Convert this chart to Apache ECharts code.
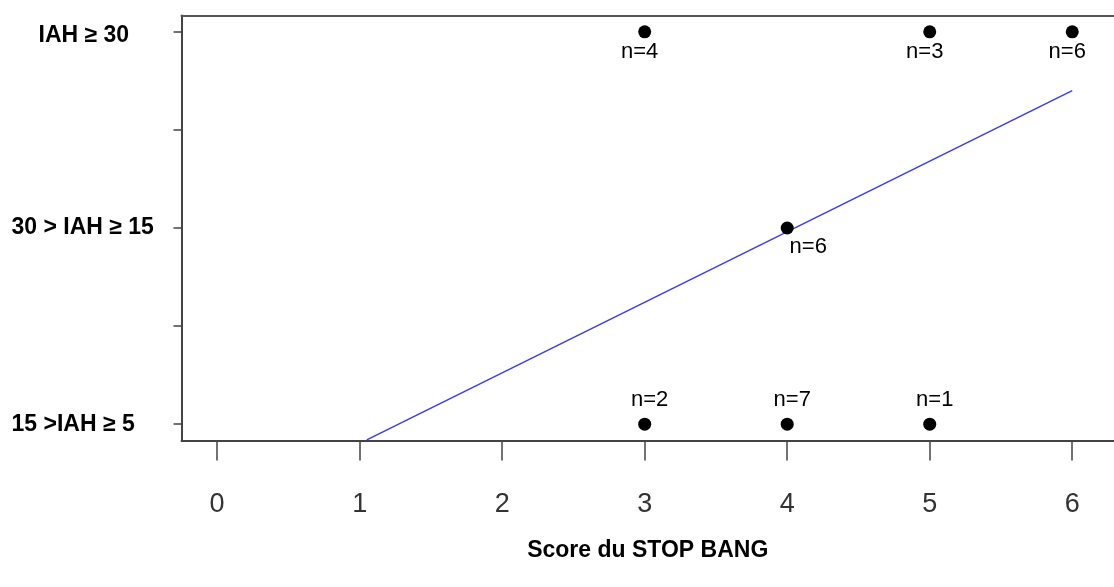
<!DOCTYPE html>
<html>
<head>
<meta charset="utf-8">
<script src="https://cdn.jsdelivr.net/npm/echarts@6/dist/echarts.min.js"></script>
<style>
  html, body { margin: 0; padding: 0; background: #fff; }
  #chart { width: 1114px; height: 587px; }
</style>
</head>
<body>
<div id="chart"></div>
<script>
// observations: STOP BANG score vs IAH class, with group sizes
const scoreX = [3, 5, 6, 4, 3, 4, 5];
const severityY = [3, 3, 3, 2, 1, 1, 1];
const counts = [4, 3, 6, 6, 2, 7, 1];

// fitted regression line
const fitX = [1.05, 6];
const fitY = [0.92, 2.7];

const xTicks = [0, 1, 2, 3, 4, 5, 6];
const yTicks = [1, 1.5, 2, 2.5, 3];
const yLabelValues = [1, 2, 3];
const yLabels = ['15 >IAH ≥ 5', '30 > IAH ≥ 15', 'IAH ≥ 30'];

const FONT = '"Liberation Sans", Arial, Helvetica, sans-serif';
const axisColor = '#444';

const chart = echarts.init(document.getElementById('chart'));

// label placement depends on the row
function labelOffset(y) {
  if (y === 3) return [-5, 20];
  if (y === 1) return [5, -24];
  return [21, 19];
}

const points = scoreX.map((x, i) => ({
  value: [x, severityY[i]],
  label: {
    show: true,
    position: 'inside',
    offset: labelOffset(severityY[i]),
    color: '#000',
    formatter: 'n=' + counts[i]
  }
}));

const option = {
  animation: false,
  grid: { left: 181.5, right: 0, top: 15.5, bottom: 146.5 },
  xAxis: [
    {
      type: 'value',
      min: -0.25,
      max: 6.293,
      position: 'bottom',
      splitLine: { show: false },
      axisLine: { show: true, onZero: false, lineStyle: { color: axisColor, width: 2 } },
      axisTick: { show: true, length: 20, customValues: xTicks, lineStyle: { color: axisColor, width: 1.5 } },
      axisLabel: {
        customValues: xTicks,
        margin: 51,
        fontSize: 27,
        color: '#333',
        fontFamily: FONT
      },
      name: 'Score du STOP BANG',
      nameLocation: 'middle',
      nameGap: 99,
      nameTextStyle: { fontSize: 23, fontWeight: 'bold', color: '#000', fontFamily: FONT }
    },
    {
      // top border of the box
      type: 'value',
      min: -0.25,
      max: 6.293,
      position: 'top',
      splitLine: { show: false },
      axisLine: { show: true, onZero: false, lineStyle: { color: '#555', width: 2 } },
      axisTick: { show: false },
      axisLabel: { show: false }
    }
  ],
  yAxis: {
    type: 'value',
    min: 0.917,
    max: 3.083,
    splitLine: { show: false },
    axisLine: { show: true, onZero: false, lineStyle: { color: axisColor, width: 2 } },
    axisTick: { show: true, length: 8, customValues: yTicks, lineStyle: { color: axisColor, width: 1.5 } },
    axisLabel: {
      customValues: yLabelValues,
      align: 'left',
      margin: 170,
      formatter: (v) => {
        const txt = yLabels[Math.round(v) - 1];
        return Math.round(v) === 3 ? '{top|' + txt + '}' : '{b|' + txt + '}';
      },
      rich: {
        top: { fontSize: 23, fontWeight: 'bold', color: '#000', fontFamily: FONT, padding: [8, 0, 0, 27] },
        b: { fontSize: 23, fontWeight: 'bold', color: '#000', fontFamily: FONT }
      }
    }
  },
  series: [
    {
      type: 'line',
      data: fitX.map((x, i) => [x, fitY[i]]),
      symbol: 'none',
      lineStyle: { color: '#3a3aff', width: 1.5 },
      z: 2
    },
    {
      type: 'scatter',
      data: points,
      symbolSize: 13,
      itemStyle: { color: '#000', opacity: 1 },
      label: { fontSize: 22, color: '#000', fontFamily: FONT },
      z: 3
    }
  ]
};

chart.setOption(option);
</script>
</body>
</html>
